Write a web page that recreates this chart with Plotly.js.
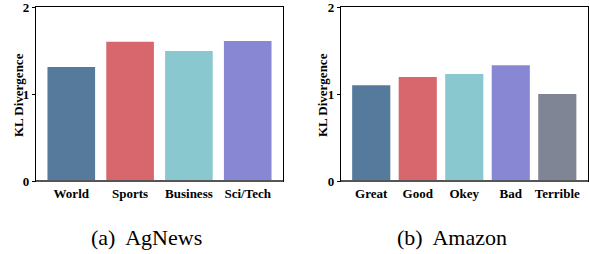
<!DOCTYPE html>
<html><head><meta charset="utf-8">
<script src="https://cdn.plot.ly/plotly-3.0.1.min.js"></script>
<style>html,body{margin:0;padding:0;background:#fff}</style>
</head><body>
<div id="chart" style="width:589px;height:254px"></div>
<script>
const agCategories = ["World", "Sports", "Business", "Sci/Tech"];
const agValues = [1.31, 1.60, 1.495, 1.61];
const amCategories = ["Great", "Good", "Okey", "Bad", "Terrible"];
const amValues = [1.10, 1.195, 1.23, 1.33, 1.00];
const palette = ["#557a9c", "#d7676d", "#89c8ce", "#8887d4", "#7f8595"];
const yTicks = [0, 1, 2];
const captions = ["(a)&nbsp; AgNews", "(b)&nbsp; Amazon"];
const yTitle = "KL Divergence";

const W = 589, H = 254;
const serif = "'Liberation Serif', 'Times New Roman', Times, serif";
const tickFont = {family: serif, size: 13, color: "#000", weight: "bold"};

const traces = [
  {type: "bar", x: agCategories, y: agValues, xaxis: "x", yaxis: "y",
   marker: {color: palette.slice(0, agCategories.length)}, width: 0.81, hoverinfo: "none"},
  {type: "bar", x: amCategories, y: amValues, xaxis: "x2", yaxis: "y2",
   marker: {color: palette.slice(0, amCategories.length)}, width: 0.82, hoverinfo: "none"}
];

function yAxis(anchor) {
  return {
    anchor: anchor, domain: [1 - 181/H, 1 - 7/H], range: [0, 2],
    tickvals: yTicks, ticktext: yTicks.map(String), tickfont: tickFont,
    ticks: "outside", ticklen: 3, tickwidth: 1, tickcolor: "#000",
    ticklabeloverflow: "allow",
    showgrid: false, zeroline: false, showline: true, linecolor: "#000", linewidth: 1.2,
    mirror: true, fixedrange: true
  };
}
function xAxis(anchor, dom, rng) {
  return {
    anchor: anchor, domain: dom, range: rng, type: "category",
    tickfont: tickFont, ticks: "", showgrid: false, zeroline: false,
    showline: true, linecolor: "#000", linewidth: 1.2, mirror: true, fixedrange: true
  };
}

const titleFont = {family: serif, size: 13, color: "#000", weight: "bold"};
const capFont = {family: serif, size: 22, color: "#000"};

const layout = {
  width: W, height: H, margin: {l: 0, r: 0, t: 0, b: 0},
  paper_bgcolor: "#fff", plot_bgcolor: "#fff", showlegend: false,
  font: {family: serif},
  xaxis: xAxis("y", [36/W, 283/W], [-0.6, 3.6]),
  yaxis: yAxis("x"),
  xaxis2: xAxis("y2", [341/W, 588/W], [-0.65, 4.66]),
  yaxis2: yAxis("x2"),
  shapes: [
    {type: "line", xref: "paper", yref: "paper", x0: 36/W, x1: 283/W, y0: 1-181/H, y1: 1-181/H,
     line: {color: "#555", width: 2}},
    {type: "line", xref: "paper", yref: "paper", x0: 341/W, x1: 588/W, y0: 1-181/H, y1: 1-181/H,
     line: {color: "#555", width: 2}}
  ],
  annotations: [
    {text: "<b>" + yTitle + "</b>", xref: "paper", yref: "paper", x: 18/W, y: 1 - 95/H, textangle: -90,
     showarrow: false, xanchor: "center", yanchor: "middle", font: titleFont},
    {text: "<b>" + yTitle + "</b>", xref: "paper", yref: "paper", x: 322/W, y: 1 - 95/H, textangle: -90,
     showarrow: false, xanchor: "center", yanchor: "middle", font: titleFont},
    {text: captions[0], xref: "paper", yref: "paper", x: 146.5/W, y: 1 - 237/H, showarrow: false,
     xanchor: "center", yanchor: "middle", font: capFont},
    {text: captions[1], xref: "paper", yref: "paper", x: 451.5/W, y: 1 - 237/H, showarrow: false,
     xanchor: "center", yanchor: "middle", font: capFont}
  ]
};
Plotly.newPlot("chart", traces, layout, {staticPlot: true, displayModeBar: false});
</script>
</body></html>
